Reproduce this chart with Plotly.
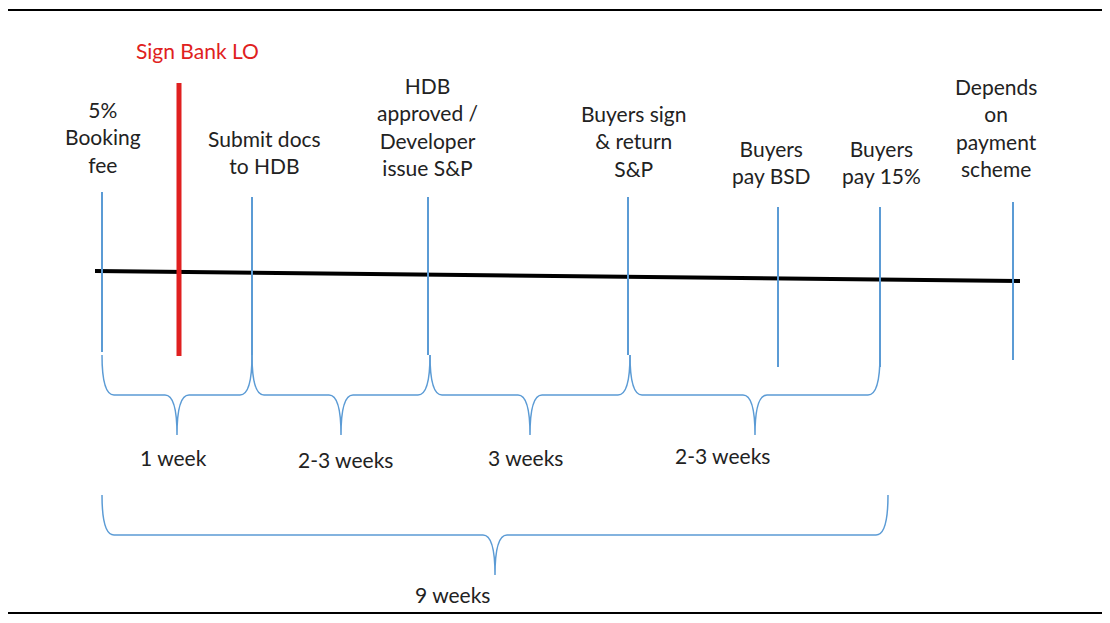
import plotly.graph_objects as go

# milestones along the timeline
milestone_x = [102, 252, 428, 628, 778, 880, 1013]
milestone_top = [192, 197, 197, 197, 207, 207, 202]
milestone_bottom = [352, 355, 355, 355, 367, 367, 360]
milestone_labels = ["5%<br>Booking<br>fee", "Submit docs<br>to HDB",
                    "HDB<br>approved /<br>Developer<br>issue S&P",
                    "Buyers sign<br>& return<br>S&P", "Buyers<br>pay BSD",
                    "Buyers<br>pay 15%", "Depends<br>on<br>payment<br>scheme"]
label_x = [103, 264, 427, 634, 771, 881, 996]
label_y = [137, 152, 126, 141, 162, 162, 127]

# durations between milestones (brace start, end, label)
brace_start = [102, 252, 430, 630, 102]
brace_end = [252, 430, 630, 880, 888]
brace_top = [355, 355, 355, 355, 495]
brace_labels = ["1 week", "2-3 weeks", "3 weeks", "2-3 weeks", "9 weeks"]
brace_label_x = [173, 345, 525, 722, 452]
brace_label_y = [457, 459, 457, 455, 594]

blue = "#5b9bd5"
font = "Lato"

fig = go.Figure()
shapes = []

# frame
shapes.append(dict(type="line", x0=0, x1=1110, y0=10, y1=10, line=dict(color="black", width=2)))
shapes.append(dict(type="line", x0=0, x1=1110, y0=613, y1=613, line=dict(color="black", width=2)))

# main timeline
shapes.append(dict(type="line", x0=95, x1=1020, y0=271, y1=281, line=dict(color="black", width=4)))

for x, t, b in zip(milestone_x, milestone_top, milestone_bottom):
    shapes.append(dict(type="line", x0=x, x1=x, y0=t, y1=b, line=dict(color=blue, width=2)))

# Sign Bank LO
shapes.append(dict(type="line", x0=179, x1=179, y0=83, y1=356, line=dict(color="#e02020", width=5)))

def brace(x1, x2, y0):
    m = (x1 + x2) / 2
    d = 40
    return (f"M {x1},{y0} Q {x1},{y0+d} {x1+12},{y0+d} L {m-12},{y0+d} "
            f"Q {m},{y0+d} {m},{y0+2*d} Q {m},{y0+d} {m+12},{y0+d} "
            f"L {x2-12},{y0+d} Q {x2},{y0+d} {x2},{y0}")

for s, e, t in zip(brace_start, brace_end, brace_top):
    shapes.append(dict(type="path", path=brace(s, e, t), line=dict(color=blue, width=1.5)))

annotations = []
for txt, x, y in zip(milestone_labels, label_x, label_y):
    annotations.append(dict(x=x, y=y, text=txt, showarrow=False, xanchor="center", yanchor="middle",
                            font=dict(family=font, size=21, color="#222")))
annotations.append(dict(x=197, y=50, text="Sign Bank LO", showarrow=False,
                        font=dict(family=font, size=21, color="#e02020")))
for txt, x, y in zip(brace_labels, brace_label_x, brace_label_y):
    annotations.append(dict(x=x, y=y, text=txt, showarrow=False,
                            font=dict(family=font, size=21, color="#222")))

fig.update_layout(
    width=1094, height=607, margin=dict(l=0, r=0, t=0, b=0),
    plot_bgcolor="white", paper_bgcolor="white",
    xaxis=dict(range=[8, 1102], visible=False, fixedrange=True),
    yaxis=dict(range=[615, 8], visible=False, fixedrange=True),
    shapes=shapes, annotations=annotations, showlegend=False,
)

fig.write_html("out.html")
